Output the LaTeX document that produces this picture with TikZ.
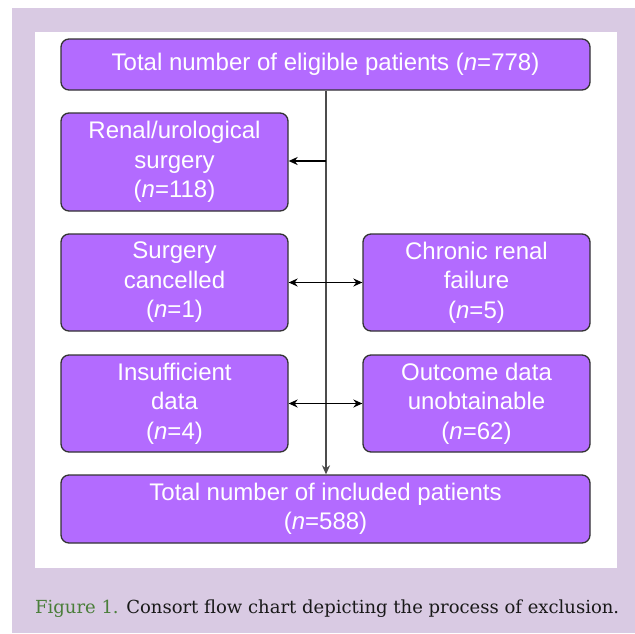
\documentclass[tikz,border=0pt]{standalone}
\usepackage{fontspec}
\setmainfont{Liberation Sans}
\newfontfamily\captionfont{DejaVu Serif}
\usetikzlibrary{arrows.meta}
\definecolor{boxfill}{HTML}{B36BFF}
\definecolor{boxline}{HTML}{333333}
\definecolor{panelbg}{HTML}{D9CAE3}
\definecolor{figgreen}{HTML}{4A7E3A}
\tikzset{
  flowbox/.style={draw=boxline, line width=1.3pt, fill=boxfill, rounded corners=8pt,
    text=white, align=center, inner sep=0pt, font=\fontsize{24}{29.5}\selectfont},
  arr/.style={line width=1.4pt, -{Stealth[length=9pt,width=8pt]}},
  darr/.style={line width=1.4pt, {Stealth[length=9pt,width=8pt]}-{Stealth[length=9pt,width=8pt]}}
}
\begin{document}
\begin{tikzpicture}[x=1pt, y=-1pt]
  \useasboundingbox (0,0) rectangle (635,633);
  % background and panel
  \fill[panelbg] (12,8) rectangle (635,633);
  \fill[white] (35,32) rectangle (617,568);

  % boxes
  \node[flowbox, minimum width=529pt, minimum height=51pt] (eligible) at (325.5,64.5)
    {Total number of eligible patients (\textit{n}=778)};
  \node[flowbox, minimum width=227pt, minimum height=98pt] (renal) at (174.5,162)
    {Renal/urological\\surgery\\(\textit{n}=118)};
  \node[flowbox, minimum width=227pt, minimum height=97pt] (cancel) at (174.5,282.5)
    {Surgery\\cancelled\\(\textit{n}=1)};
  \node[flowbox, minimum width=227pt, minimum height=97pt] (chronic) at (476.5,282.5)
    {Chronic renal\\failure\\(\textit{n}=5)};
  \node[flowbox, minimum width=227pt, minimum height=97pt] (insuff) at (174.5,403.5)
    {Insufficient\\data\\(\textit{n}=4)};
  \node[flowbox, minimum width=227pt, minimum height=97pt] (outcome) at (476.5,403.5)
    {Outcome data\\unobtainable\\(\textit{n}=62)};
  \node[flowbox, minimum width=529pt, minimum height=68pt] (included) at (325.5,509)
    {Total number of included patients\\(\textit{n}=588)};

  % spine
  \coordinate (spine) at (326,161);
  \draw[arr, draw=black!70] (eligible.south -| spine) -- (included.north -| spine);
  \draw[arr] (spine) -- (renal.east |- spine);
  \draw[darr] (cancel.east) -- (chronic.west);
  \draw[darr] (insuff.east) -- (outcome.west);

  % caption
  \node[anchor=base west, inner sep=0pt, font=\captionfont\fontsize{18}{20}\selectfont] (caption) at (35,613)
    {\textcolor{figgreen}{Figure 1.} \textcolor{black!90}{Consort flow chart depicting the process of exclusion.}};
\end{tikzpicture}
\end{document}
